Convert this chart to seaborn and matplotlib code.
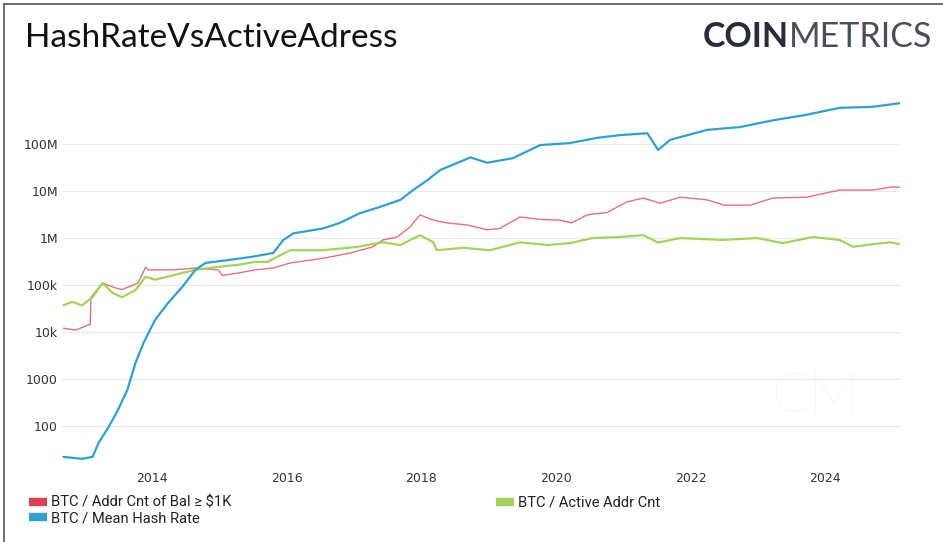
import matplotlib
matplotlib.use("Agg")
import matplotlib.pyplot as plt
from matplotlib.lines import Line2D
from matplotlib.ticker import FixedLocator, FixedFormatter
import seaborn as sns
import pandas as pd

# ---------------- data ----------------
hash_dates = ["2012-09-05", "2012-12-15", "2013-02-10", "2013-03-15", "2013-05-08", "2013-06-28",
              "2013-08-18", "2013-10-01", "2013-11-14", "2014-01-15", "2014-03-28", "2014-06-13",
              "2014-08-22", "2014-10-16", "2015-02-17", "2015-06-28", "2015-10-19", "2015-12-13",
              "2016-02-06", "2016-07-16", "2016-10-15", "2017-02-02", "2017-05-22", "2017-09-09",
              "2017-11-17", "2018-02-02", "2018-04-13", "2018-09-24", "2018-12-24", "2019-05-12",
              "2019-10-08", "2020-03-17", "2020-08-11", "2020-12-13", "2021-05-12", "2021-07-09",
              "2021-09-13", "2022-04-01", "2022-09-27", "2023-03-25", "2023-09-24", "2024-03-21",
              "2024-09-16", "2025-02-10"]
hash_vals = [22, 20, 22, 44, 95, 220,
             590, 2200, 5900, 18000, 42000, 92000,
             210000, 295000, 340000, 400000, 480000, 910000,
             1.26e6, 1.6e6, 2.1e6, 3.4e6, 4.6e6, 6.5e6,
             1.05e7, 1.7e7, 2.8e7, 5.2e7, 4.0e7, 5.0e7,
             9.5e7, 1.05e8, 1.35e8, 1.55e8, 1.7e8, 7.5e7,
             1.23e8, 2.0e8, 2.3e8, 3.2e8, 4.2e8, 5.9e8,
             6.2e8, 7.4e8]

bal_dates = ["2012-09-05", "2012-11-10", "2013-01-15", "2013-01-28", "2013-02-01", "2013-04-05",
             "2013-06-13", "2013-07-20", "2013-10-15", "2013-11-25", "2013-12-10", "2014-04-20",
             "2014-08-22", "2014-12-25", "2015-01-15", "2015-04-12", "2015-07-12", "2015-10-19",
             "2016-01-19", "2016-07-16", "2016-12-10", "2017-04-13", "2017-06-05", "2017-08-22",
             "2017-10-30", "2017-12-24", "2018-03-07", "2018-05-18", "2018-09-05", "2018-12-24",
             "2019-03-03", "2019-06-20", "2019-10-08", "2020-01-22", "2020-03-28", "2020-06-17",
             "2020-10-05", "2021-01-22", "2021-04-20", "2021-07-20", "2021-11-06", "2022-04-01",
             "2022-07-05", "2022-11-20", "2023-03-25", "2023-09-24", "2024-03-21", "2024-09-16",
             "2025-01-05", "2025-02-10"]
bal_vals = [12000, 11000, 14000, 14500, 55000, 110000,
            87000, 80000, 110000, 240000, 210000, 210000,
            230000, 210000, 160000, 180000, 210000, 230000,
            295000, 370000, 480000, 650000, 910000, 1.05e6,
            1.7e6, 3.1e6, 2.4e6, 2.1e6, 1.9e6, 1.5e6,
            1.6e6, 2.8e6, 2.5e6, 2.4e6, 2.1e6, 3.1e6,
            3.5e6, 5.9e6, 7.1e6, 5.5e6, 7.4e6, 6.5e6,
            5.0e6, 5.0e6, 7.1e6, 7.4e6, 1.05e7, 1.05e7,
            1.23e7, 1.2e7]

act_dates = ["2012-09-05", "2012-10-22", "2012-12-15", "2013-02-10", "2013-04-05", "2013-05-30",
             "2013-07-20", "2013-10-01", "2013-11-25", "2014-01-15", "2014-04-20", "2014-08-22",
             "2014-12-10", "2015-04-12", "2015-07-12", "2015-09-16", "2016-01-19", "2016-07-16",
             "2017-01-19", "2017-06-05", "2017-09-09", "2017-12-24", "2018-03-07", "2018-03-25",
             "2018-08-15", "2019-01-08", "2019-06-20", "2019-11-15", "2020-03-17", "2020-07-20",
             "2020-12-13", "2021-04-20", "2021-07-09", "2021-11-06", "2022-06-25", "2022-12-28",
             "2023-05-18", "2023-10-28", "2024-03-21", "2024-06-03", "2024-09-16", "2024-12-20",
             "2025-02-10"]
act_vals = [37000, 44000, 37000, 55000, 110000, 68000,
            55000, 78000, 150000, 130000, 160000, 210000,
            240000, 270000, 310000, 310000, 550000, 550000,
            650000, 810000, 710000, 1.15e6, 810000, 550000,
            620000, 550000, 810000, 710000, 780000, 1.0e6,
            1.05e6, 1.15e6, 800000, 1.0e6, 910000, 1.0e6,
            780000, 1.05e6, 910000, 650000, 740000, 810000,
            740000]

series_names = ["BTC / Addr Cnt of Bal \u2265 $1K", "BTC / Mean Hash Rate", "BTC / Active Addr Cnt"]
ytick_vals = [100, 1000, 1e4, 1e5, 1e6, 1e7, 1e8]
ytick_labels = ["100", "1000", "10k", "100k", "1M", "10M", "100M"]
xtick_years = [2014, 2016, 2018, 2020, 2022, 2024]

# ---------------- styling ----------------
RED = "#DF3F52"
BLUE = "#2FA0D4"
GREEN = "#A3D45A"

sns.set_theme(style="white")
plt.rcParams["font.family"] = ["Lato", "DejaVu Sans"]

fig = plt.figure(figsize=(9.43, 5.42), dpi=100)
W, H = 943, 542
ax = fig.add_axes([62 / W, 1 - 462 / H, (900 - 62) / W, (462 - 98) / H])

df_bal = pd.DataFrame({"date": pd.to_datetime(bal_dates), "value": bal_vals})
df_hash = pd.DataFrame({"date": pd.to_datetime(hash_dates), "value": hash_vals})
df_act = pd.DataFrame({"date": pd.to_datetime(act_dates), "value": act_vals})

sns.lineplot(data=df_bal, x="date", y="value", ax=ax, color=RED, lw=1.0, alpha=0.75, zorder=3)
sns.lineplot(data=df_act, x="date", y="value", ax=ax, color=GREEN, lw=1.6, zorder=4)
sns.lineplot(data=df_hash, x="date", y="value", ax=ax, color=BLUE, lw=1.6, zorder=5)

ax.set_yscale("log")
ax.set_ylim(10 ** 1.234, 10 ** 8.98)
ax.set_xlim(pd.Timestamp("2012-08-28"), pd.Timestamp("2025-02-12"))
ax.yaxis.set_major_locator(FixedLocator(ytick_vals))
ax.yaxis.set_major_formatter(FixedFormatter(ytick_labels))
ax.yaxis.set_minor_locator(FixedLocator([]))
ax.set_xticks([pd.Timestamp(f"{y}-01-01") for y in xtick_years])
ax.set_xticklabels([str(y) for y in xtick_years])
ax.set_xlabel("")
ax.set_ylabel("")
ax.grid(axis="y", color="#e9e9e9", lw=0.9)
ax.grid(axis="x", visible=False)
for s in ax.spines.values():
    s.set_visible(False)
ax.tick_params(axis="both", length=0, colors="#333333")
ax.tick_params(axis="y", pad=3)
ax.tick_params(axis="x", pad=7)
for lab in ax.get_xticklabels() + ax.get_yticklabels():
    lab.set_fontfamily(["DejaVu Sans"])
    lab.set_fontsize(9)

# watermark
fig.text(815 / W, 1 - 397 / H, "CM", fontsize=40, color="#f1f1f4", ha="center", va="center",
         fontweight="light", zorder=0)

# title and brand
fig.text(25 / W, 1 - 38 / H, "HashRateVsActiveAdress", fontsize=24, color="#111111",
         ha="left", va="center")
t1 = fig.text(703 / W, 1 - 37 / H, "COIN", fontsize=24.5, fontweight="bold", color="#2a2c3a",
              ha="left", va="center")
fig.canvas.draw()
bb = t1.get_window_extent()
fig.text(bb.x1 / W, 1 - 37 / H, "METRICS", fontsize=24.5, fontweight="normal", color="#4a4d5a",
         ha="left", va="center")

# frame lines (left and top)
fig.add_artist(Line2D([4 / W, 4 / W], [0, 1 - 4 / H], color="#555555", lw=1.2))
fig.add_artist(Line2D([4 / W, 1], [1 - 4 / H, 1 - 4 / H], color="#555555", lw=1.2))

# legends
h_red = Line2D([], [], color=RED, lw=6, solid_capstyle="butt")
h_blue = Line2D([], [], color=BLUE, lw=6, solid_capstyle="butt")
h_green = Line2D([], [], color=GREEN, lw=6, solid_capstyle="butt")
leg1 = fig.legend([h_red, h_blue], series_names[:2], loc="upper left",
                  bbox_to_anchor=(23 / W, 1 - 490 / H), frameon=False, fontsize=10.6,
                  handlelength=1.2, handletextpad=0.3, labelspacing=0.1, borderaxespad=0)
leg2 = fig.legend([h_green], series_names[2:], loc="upper left",
                  bbox_to_anchor=(490 / W, 1 - 490 / H), frameon=False, fontsize=10.6,
                  handlelength=1.2, handletextpad=0.3, borderaxespad=0)
for lg in (leg1, leg2):
    for t in lg.get_texts():
        t.set_color("#222222")
        t.set_fontfamily(["Roboto", "DejaVu Sans"])

fig.savefig("out.png", dpi=100)
